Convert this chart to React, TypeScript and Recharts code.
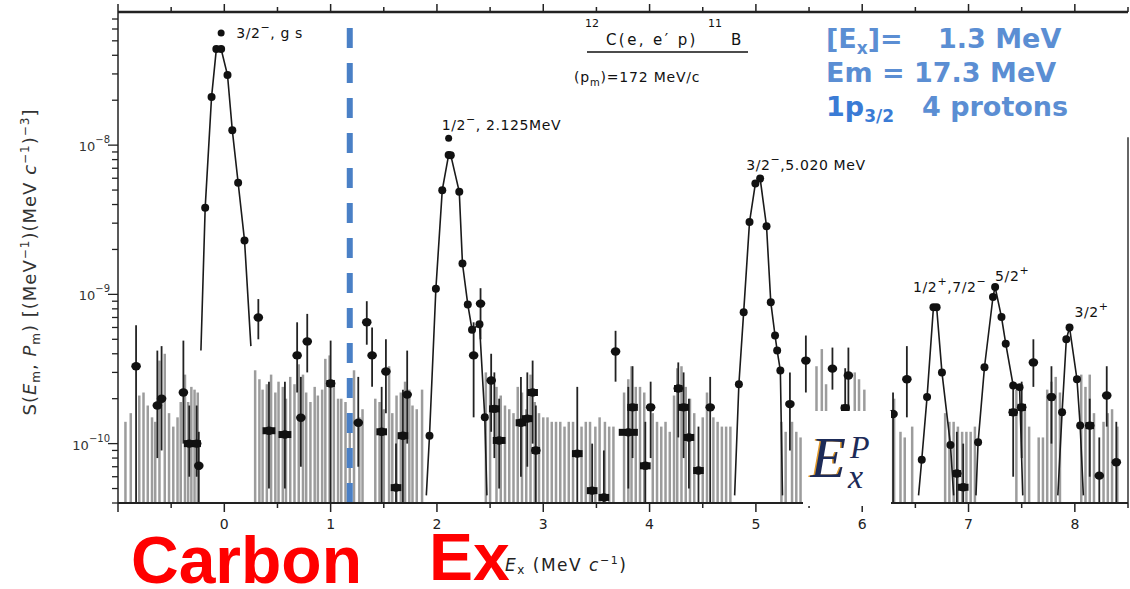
import React from "react";
import {
  ComposedChart,
  XAxis,
  YAxis,
  Line,
  Scatter,
  ErrorBar,
  ReferenceLine,
  ReferenceDot,
} from "recharts";

// axes
const xTicks = [-1, -0.5, 0, 0.5, 1, 1.5, 2, 2.5, 3, 3.5, 4, 4.5, 5, 5.5, 6, 6.5, 7, 7.5, 8, 8.5];
const xLabels = ["0", "1", "2", "3", "4", "5", "6", "7", "8"];
const yMin = 4e-11;
const yMax = 7.8e-8;
const yDecades = [-11, -10, -9, -8];
const yTickLabels = ["10", "10", "10", "10"];

// peaks (connected points)
const gsX = [-0.22, -0.18, -0.12, -0.075, -0.03, 0.03, 0.075, 0.13, 0.19, 0.25];
const gsY = [4.2e-10, 3.8e-9, 2.1e-8, 4.4e-8, 4.4e-8, 2.95e-8, 1.26e-8, 5.6e-9, 2.3e-9, 4.5e-10];
const p2X = [1.9, 1.93, 1.99, 2.05, 2.11, 2.13, 2.21, 2.24, 2.29, 2.33, 2.4, 2.45, 2.47];
const p2Y = [4.5e-11, 1.13e-10, 1.09e-9, 4.99e-9, 8.6e-9, 8.57e-9, 4.87e-9, 1.61e-9, 8.57e-10, 5.8e-10, 6.3e-10, 1.5e-10, 4.5e-11];
const p5X = [4.8, 4.84, 4.885, 4.94, 4.995, 5.04, 5.1, 5.14, 5.18, 5.2, 5.23, 5.25];
const p5Y = [4.5e-11, 2.5e-10, 7.6e-10, 3.05e-9, 5.53e-9, 5.97e-9, 2.86e-9, 8.87e-10, 5.3e-10, 4.2e-10, 3.09e-10, 4.5e-11];
const p67X = [6.53, 6.56, 6.61, 6.67, 6.7, 6.75, 6.83, 6.86];
const p67Y = [4.5e-11, 7.8e-11, 2.05e-10, 8.2e-10, 8.2e-10, 3.0e-10, 9.8e-11, 4.5e-11];
const p72X = [7.07, 7.09, 7.15, 7.23, 7.25, 7.31, 7.35, 7.42, 7.48, 7.51];
const p72Y = [4.5e-11, 1.02e-10, 3.25e-10, 9.6e-10, 1.12e-9, 7.05e-10, 4.67e-10, 2.45e-10, 2.39e-10, 4.5e-11];
const p79X = [7.84, 7.88, 7.92, 7.95, 8.02, 8.05, 8.08];
const p79Y = [4.5e-11, 1.62e-10, 5.0e-10, 6.0e-10, 2.7e-10, 1.32e-10, 4.5e-11];

// isolated measured points with errors
const ptX = [-0.83, -0.63, -0.59, -0.385, -0.33, -0.26, -0.24, 0.32, 0.42, 0.57, 0.685, 0.72, 0.78, 1.0, 1.26, 1.34, 1.39, 1.52, 1.48, 1.615, 1.68, 1.72, 2.345, 2.41, 2.51, 2.54, 2.585, 2.79, 2.85, 2.9, 2.93, 3.32, 3.46, 3.57, 3.68, 3.8, 3.84, 3.96, 4.01, 4.27, 4.32, 4.37, 4.46, 4.57, 5.32, 5.47, 5.72, 5.87, 5.84, 6.29, 6.42, 6.89, 6.95, 7.42, 7.5, 7.61, 7.78, 8.14, 8.23, 8.3, 8.39];
const ptY = [3.3e-10, 1.8e-10, 2.0e-10, 2.2e-10, 1.0e-10, 1.0e-10, 7.1e-11, 7.0e-10, 1.22e-10, 1.15e-10, 3.9e-10, 1.49e-10, 4.84e-10, 2.53e-10, 1.38e-10, 6.5e-10, 3.9e-10, 3.04e-10, 1.2e-10, 5.07e-11, 1.13e-10, 2.13e-10, 3.9e-10, 8.67e-10, 2.65e-10, 1.71e-10, 1.05e-10, 1.38e-10, 1.47e-10, 2.2e-10, 9.0e-11, 8.57e-11, 4.84e-11, 4.36e-11, 4.14e-10, 1.19e-10, 1.75e-10, 7.1e-11, 1.75e-10, 2.34e-10, 1.75e-10, 1.1e-10, 6.6e-11, 1.75e-10, 1.84e-10, 3.6e-10, 3.18e-10, 2.86e-10, 1.73e-10, 1.58e-10, 2.7e-10, 6.3e-11, 5.1e-11, 1.62e-10, 1.75e-10, 3.5e-10, 2.05e-10, 1.32e-10, 6.1e-11, 2.1e-10, 7.5e-11];
const ptLo = [4e-11, 8e-11, 9e-11, 1.0e-10, 6e-11, 6e-11, 4e-11, 5.0e-10, 5e-11, 5e-11, 2.2e-10, 7e-11, 3.0e-10, 4e-11, 7e-11, 4.6e-10, 2.4e-10, 1.6e-10, 4e-11, 4e-11, 4e-11, 1.0e-10, 1.5e-10, 5e-10, 1.2e-10, 8e-11, 5e-11, 6e-11, 7e-11, 1.0e-10, 4e-11, 4e-11, 4e-11, 4e-11, 2.6e-10, 5e-11, 8e-11, 4e-11, 8e-11, 1.1e-10, 8e-11, 5e-11, 4e-11, 4e-11, 9e-11, 2.2e-10, 2.3e-10, 1.6e-10, 9e-11, 4e-11, 1.5e-10, 4e-11, 4e-11, 6e-11, 8e-11, 2.4e-10, 1.0e-10, 6e-11, 4e-11, 1.3e-10, 4e-11];
const ptHi = [6.2e-10, 4.2e-10, 4.5e-10, 4.9e-10, 1.8e-10, 1.8e-10, 1.2e-10, 9.3e-10, 2.6e-10, 2.6e-10, 6.5e-10, 2.8e-10, 7.4e-10, 4.9e-10, 2.8e-10, 9.0e-10, 6.0e-10, 5.0e-10, 2.4e-10, 1.0e-10, 2.3e-10, 4.2e-10, 6.5e-10, 1.1e-9, 4.0e-10, 3.0e-10, 2.0e-10, 2.8e-10, 3.0e-10, 3.6e-10, 1.8e-10, 2.4e-10, 1.0e-10, 9e-11, 5.7e-10, 2.4e-10, 3.3e-10, 1.4e-10, 2.6e-10, 3.5e-10, 3.0e-10, 2.0e-10, 1.3e-10, 2.8e-10, 3.0e-10, 5.3e-10, 4.4e-10, 4.4e-10, 3.2e-10, 2.2e-10, 4.5e-10, 1.2e-10, 1.0e-10, 2.6e-10, 2.6e-10, 5.0e-10, 3.3e-10, 2.0e-10, 1.1e-10, 3.3e-10, 1.4e-10];
const ptDx = [0, 0.02, 0.02, 0.02, 0.05, 0.04, 0.02, 0, 0.06, 0.06, 0.03, 0, 0, 0.04, 0, 0, 0, 0.02, 0.05, 0.05, 0.05, 0, 0, 0.02, 0, 0.05, 0.06, 0.05, 0.05, 0.05, 0.04, 0.05, 0.05, 0.05, 0, 0.09, 0.05, 0.05, 0.03, 0.04, 0.05, 0.05, 0.05, 0, 0, 0, 0, 0, 0.04, 0, 0, 0.04, 0.05, 0.04, 0.04, 0, 0.03, 0.04, 0, 0, 0];

// background error bars (upper ends)
const barX = [-0.93, -0.88, -0.8, -0.76, -0.72, -0.68, -0.65, -0.61, -0.56, -0.52, -0.48, -0.44, -0.41, -0.37, -0.34, -0.31, -0.28, -0.25,
  0.29, 0.33, 0.36, 0.4, 0.44, 0.48, 0.51, 0.55, 0.58, 0.62, 0.66, 0.7, 0.74, 0.77, 0.81, 0.85, 0.88, 0.92, 0.95, 0.99, 1.03, 1.07, 1.1, 1.14, 1.18, 1.22, 1.27, 1.3,
  1.42, 1.46, 1.5, 1.55, 1.58, 1.62, 1.66, 1.7, 1.74, 1.77, 1.81, 1.86,
  2.46, 2.5, 2.56, 2.6, 2.64, 2.68, 2.72, 2.76, 2.8, 2.84, 2.88, 2.92, 2.96, 3.0, 3.04, 3.08, 3.12, 3.16, 3.2, 3.24, 3.28, 3.36, 3.4, 3.44, 3.49, 3.53, 3.58, 3.62, 3.66,
  3.76, 3.8, 3.83, 3.87, 3.91, 3.95, 4.03, 4.07, 4.11, 4.15, 4.19, 4.23, 4.26, 4.3, 4.34, 4.38, 4.42, 4.5, 4.54, 4.6, 4.64, 4.68, 4.72, 4.76,
  5.24, 5.28, 5.34, 5.38, 5.42, 5.57, 5.62, 5.66, 5.93, 5.97, 6.02, 6.26, 6.3, 6.36, 6.4, 6.47,
  6.78, 6.82, 6.86, 6.9, 6.94, 6.98, 7.02, 7.06,
  7.45, 7.53, 7.57, 7.66, 7.7, 7.74, 7.78, 7.82, 7.86, 8.06, 8.1, 8.14, 8.18, 8.27, 8.31, 8.35, 8.4];
const barTop = [1.4e-10, 1.6e-10, 2.1e-10, 2.2e-10, 1.8e-10, 1.5e-10, 1.4e-10, 3.6e-10, 4.0e-10, 1.6e-10, 1.3e-10, 1.5e-10, 1.9e-10, 2.9e-10, 1.9e-10, 2.4e-10, 2.3e-10, 2.2e-10,
  3.1e-10, 2.7e-10, 2.3e-10, 2.5e-10, 2.9e-10, 2.2e-10, 2.6e-10, 2.4e-10, 2.0e-10, 2.8e-10, 2.5e-10, 3.4e-10, 2.9e-10, 2.2e-10, 1.9e-10, 2.4e-10, 2.1e-10, 2.3e-10, 3.7e-10, 3.9e-10, 2.6e-10, 2.0e-10, 2.0e-10, 1.9e-10, 1.6e-10, 3.1e-10, 1.5e-10, 1.7e-10,
  2.0e-10, 1.9e-10, 1.7e-10, 3.3e-10, 1.6e-10, 2.1e-10, 2.2e-10, 2.6e-10, 2.3e-10, 1.8e-10, 1.7e-10, 2.3e-10,
  3.0e-10, 2.6e-10, 2.4e-10, 2.1e-10, 1.8e-10, 1.7e-10, 1.6e-10, 2.4e-10, 2.2e-10, 1.7e-10, 2.9e-10, 1.9e-10, 1.6e-10, 1.5e-10, 1.5e-10, 1.4e-10, 1.4e-10, 1.4e-10, 1.3e-10, 1.4e-10, 1.4e-10, 1.3e-10, 1.4e-10, 1.4e-10, 1.3e-10, 1.5e-10, 1.4e-10, 1.3e-10, 1.3e-10,
  2.2e-10, 2.7e-10, 3.3e-10, 2.4e-10, 2.4e-10, 2.2e-10, 1.6e-10, 1.4e-10, 1.3e-10, 1.4e-10, 1.2e-10, 2.1e-10, 3.2e-10, 3.3e-10, 2.4e-10, 2.0e-10, 1.6e-10, 1.5e-10, 2.2e-10, 1.5e-10, 1.4e-10, 1.3e-10, 1.3e-10, 1.3e-10,
  1.4e-10, 1.2e-10, 1.4e-10, 1.2e-10, 1.1e-10, 3.3e-10, 4.3e-10, 2.5e-10, 3.0e-10, 2.7e-10, 2.3e-10, 1.5e-10, 2.0e-10, 1.2e-10, 1.1e-10, 1.3e-10,
  1.6e-10, 1.4e-10, 1.4e-10, 1.3e-10, 1.2e-10, 1.2e-10, 1.2e-10, 1.3e-10,
  2.3e-10, 1.8e-10, 1.3e-10, 1.1e-10, 1.1e-10, 2.3e-10, 2.6e-10, 2.8e-10, 2.2e-10, 2.9e-10, 2.4e-10, 2.9e-10, 1.6e-10, 1.4e-10, 1.6e-10, 1.7e-10, 1.3e-10];

const dashX = 1.18;

const toPts = (xs: number[], ys: number[]) => xs.map((x, i) => ({ x, y: ys[i] }));

const peaks = [toPts(gsX, gsY), toPts(p2X, p2Y), toPts(p5X, p5Y), toPts(p67X, p67Y), toPts(p72X, p72Y), toPts(p79X, p79Y)];

const points = ptX.map((x, i) => ({
  x,
  y: ptY[i],
  err: [ptY[i] - ptLo[i], ptHi[i] - ptY[i]],
  xerr: ptDx[i],
}));

const bars = barX.map((x, i) => ({ x, y: yMin, err: [0, barTop[i] - yMin] }));

const yTicks = yDecades.flatMap((e) => [1, 2, 3, 4, 5, 6, 7, 8, 9].map((m) => m * Math.pow(10, e))).filter((v) => v >= yMin && v <= yMax);

const FONT = "DejaVu Sans";

function BottomTick(props: any) {
  const { x, y, payload } = props;
  const v = payload.value;
  const major = Number.isInteger(v);
  const idx = v >= 0 && major ? v : -1;
  return (
    <g>
      <line x1={x} x2={x} y1={y} y2={y + (major ? 9 : 5)} stroke="#222" strokeWidth={1.5} />
      {idx >= 0 && (
        <text x={x} y={y + 26} textAnchor="middle" fontSize={14} fontFamily={FONT} fill="#222">
          {xLabels[idx]}
        </text>
      )}
    </g>
  );
}

function TopTick(props: any) {
  const { x, y, payload } = props;
  const major = Number.isInteger(payload.value);
  return <line x1={x} x2={x} y1={y} y2={y - (major ? 8 : 5)} stroke="#222" strokeWidth={1.5} />;
}

function LeftTick(props: any) {
  const { x, y, payload } = props;
  const v = payload.value;
  const e = Math.round(Math.log10(v));
  const major = Math.abs(v / Math.pow(10, e) - 1) < 1e-6;
  const di = yDecades.indexOf(e);
  return (
    <g>
      <line x1={x - (major ? 10 : 6)} x2={x} y1={y} y2={y} stroke="#222" strokeWidth={1.3} />
      {major && di >= 0 && (
        <text x={x - 8} y={y + 6} textAnchor="end" fontSize={13} fontFamily={FONT} fill="#333">
          {yTickLabels[di]}
          <tspan dy={-8} fontSize={10}>{String(e).replace("-", "−")}</tspan>
        </text>
      )}
    </g>
  );
}

const peakDot = (last: number) => (p: any) => {
  if (p.index === 0 || p.index === last || p.cx == null) return <g key={p.index} />;
  return <circle key={p.index} cx={p.cx} cy={p.cy} r={4} fill="#111" />;
};

function PeakText(props: any) {
  const { viewBox, dx, dy, parts } = props;
  const cx = viewBox.x + viewBox.width / 2;
  const cy = viewBox.y + viewBox.height / 2;
  let up = false;
  return (
    <text x={cx + dx} y={cy + dy} fontFamily={FONT} fontSize={14} fill="#111" letterSpacing={0.6}>
      {parts.map((pt: [string, number], i: number) => {
        const sup = pt[1] === 1;
        const shift = sup && !up ? -7 : !sup && up ? 7 : 0;
        up = sup;
        return (
          <tspan key={i} dy={shift} fontSize={sup ? 11 : 14}>
            {pt[0]}
          </tspan>
        );
      })}
    </text>
  );
}

const labels: { x: number; y: number; r: number; dx: number; dy: number; parts: [string, number][] }[] = [
  { x: -0.03, y: 5.65e-8, r: 3.5, dx: 15, dy: 5, parts: [["3/2", 0], ["−", 1], [", g s", 0]] },
  { x: 2.11, y: 1.11e-8, r: 3.5, dx: -7, dy: -8, parts: [["1/2", 0], ["−", 1], [", 2.125MeV", 0]] },
  { x: 5.04, y: 5.97e-9, r: 0.01, dx: -14, dy: -9, parts: [["3/2", 0], ["−", 1], [",5.020 MeV", 0]] },
  { x: 6.685, y: 8.2e-10, r: 0.01, dx: -22, dy: -15, parts: [["1/2", 0], ["+", 1], [",7/2", 0], ["−", 1]] },
  { x: 7.25, y: 1.12e-9, r: 0.01, dx: 0, dy: -6, parts: [["5/2", 0], ["+", 1]] },
  { x: 7.95, y: 6.0e-10, r: 0.01, dx: 5, dy: -10, parts: [["3/2", 0], ["+", 1]] },
];

export default function App() {
  return (
    <div style={{ position: "relative", width: 1130, height: 589, background: "#fff" }}>
      <style>{"body{margin:0}"}</style>
      <ComposedChart width={1130} height={589} margin={{ top: 0, right: 2, bottom: 56, left: 78 }}>
        <XAxis
          xAxisId="bottom"
          dataKey="x"
          type="number"
          domain={[-1, 8.5]}
          ticks={xTicks}
          interval={0}
          allowDataOverflow
          height={30}
          tickSize={0}
          tickMargin={0}
          tick={<BottomTick />}
          axisLine={{ stroke: "#222", strokeWidth: 2 }}
        />
        <XAxis
          xAxisId="top"
          orientation="top"
          dataKey="x"
          type="number"
          domain={[-1, 8.5]}
          ticks={xTicks}
          interval={0}
          allowDataOverflow
          height={12}
          tickSize={0}
          tickMargin={0}
          tick={<TopTick />}
          axisLine={{ stroke: "#222", strokeWidth: 2.5 }}
        />
        <YAxis
          dataKey="y"
          type="number"
          scale="log"
          domain={[yMin, yMax]}
          ticks={yTicks}
          interval={0}
          allowDataOverflow
          width={40}
          tickSize={0}
          tickMargin={0}
          tick={<LeftTick />}
          axisLine={{ stroke: "#222", strokeWidth: 1.5 }}
        />
        <Scatter xAxisId="bottom" data={bars} isAnimationActive={false} shape={() => <g />}>
          <ErrorBar dataKey="err" direction="y" width={0} stroke="#9c9c9c" strokeWidth={2.5} />
        </Scatter>
        <Scatter
          xAxisId="bottom"
          data={points}
          isAnimationActive={false}
          shape={(p: any) => <ellipse cx={p.cx} cy={p.cy} rx={4.8} ry={4.2} fill="#111" />}
        >
          <ErrorBar dataKey="err" direction="y" width={0} stroke="#222" strokeWidth={1.8} />
          <ErrorBar dataKey="xerr" direction="x" width={0} stroke="#111" strokeWidth={7} />
        </Scatter>
        {peaks.map((d, i) => (
          <Line
            key={i}
            xAxisId="bottom"
            data={d}
            dataKey="y"
            type="linear"
            stroke="#1a1a1a"
            strokeWidth={1.6}
            dot={peakDot(d.length - 1)}
            activeDot={false}
            isAnimationActive={false}
          />
        ))}
        <ReferenceLine
          xAxisId="bottom"
          segment={[{ x: 8.5, y: 1.13e-8 }, { x: 8.5, y: yMin }]}
          stroke="#333"
          strokeWidth={1.5}
        />
        <ReferenceLine
          xAxisId="bottom"
          segment={[{ x: dashX, y: 6.1e-8 }, { x: dashX, y: yMin }]}
          stroke="#4a80c6"
          strokeWidth={6}
          strokeDasharray="20 15"
        />
        {labels.map((l, i) => (
          <ReferenceDot
            key={i}
            xAxisId="bottom"
            x={l.x}
            y={l.y}
            r={l.r}
            fill="#111"
            stroke="none"
            label={<PeakText dx={l.dx} dy={l.dy} parts={l.parts} />}
          />
        ))}
      </ComposedChart>
      <svg width={1130} height={589} style={{ position: "absolute", left: 0, top: 0, pointerEvents: "none" }}>
        {/* y axis title */}
        <text transform="translate(36,262) rotate(-90)" textAnchor="middle" fontFamily={FONT} fontSize={18} fill="#333" letterSpacing={1}>
          S(<tspan fontStyle="italic">E</tspan>
          <tspan dy={4} fontSize={12}>m</tspan>
          <tspan dy={-4}>, </tspan>
          <tspan fontStyle="italic">P</tspan>
          <tspan dy={4} fontSize={12}>m</tspan>
          <tspan dy={-4}>) [(MeV</tspan>
          <tspan dy={-7} fontSize={12}>−1</tspan>
          <tspan dy={7}>)(MeV </tspan>
          <tspan fontStyle="italic">c</tspan>
          <tspan dy={-7} fontSize={12}>−1</tspan>
          <tspan dy={7}>)</tspan>
          <tspan dy={-7} fontSize={12}>−3</tspan>
          <tspan dy={7}>]</tspan>
        </text>
        {/* x axis title */}
        <text x={505} y={571} fontFamily={FONT} fontSize={17} fill="#222" letterSpacing={1.5}>
          <tspan fontStyle="italic">E</tspan>
          <tspan dy={3} fontSize={12}>x</tspan>
          <tspan dy={-3}> (MeV </tspan>
          <tspan fontStyle="italic">c</tspan>
          <tspan dy={-7} fontSize={11}>−1</tspan>
          <tspan dy={7}>)</tspan>
        </text>
        {/* reaction */}
        <text fontFamily={FONT} fill="#111">
          <tspan x={585} y={27} fontSize={11}>12</tspan>
          <tspan x={606} y={45} fontSize={15} letterSpacing={2.4}>C(e, e′ p)</tspan>
          <tspan x={708} y={27} fontSize={11}>11</tspan>
          <tspan x={731} y={45} fontSize={15}>B</tspan>
        </text>
        <line x1={587} x2={748} y1={52} y2={52} stroke="#111" strokeWidth={1.5} />
        <text x={574} y={82} fontFamily={FONT} fontSize={14} fill="#111" letterSpacing={0.8}>
          (p<tspan dy={4} fontSize={10}>m</tspan>
          <tspan dy={-4}>)=172 MeV/c</tspan>
        </text>
        {/* blue notes */}
        <g fontFamily={FONT} fontWeight="bold" fill="#5b8ed3">
          <text x={826} y={48} fontSize={27}>
            [E<tspan dy={6} fontSize={17}>x</tspan>
            <tspan dy={-6}>]=</tspan>
          </text>
          <text x={938} y={48} fontSize={27}>1.3 MeV</text>
          <text x={826} y={82} fontSize={27}>Em = 17.3 MeV</text>
          <text x={826} y={116} fontSize={27} fill="#3a7bd5">
            1p<tspan dy={6} fontSize={17}>3/2</tspan>
          </text>
          <text x={922} y={116} fontSize={27}>4 protons</text>
        </g>
        {/* E_x^P inset */}
        <rect x={803} y={411} width={88} height={95} fill="#fff" />
        <g fontFamily="Liberation Serif" fontStyle="italic">
          <text x={809} y={477} fontSize={58} fill="#e39a2a">E</text>
          <text x={810.5} y={477} fontSize={58} fill="#1d2b58">E</text>
          <text x={850} y={458} fontSize={32} fill="#1d2b58">P</text>
          <text x={848} y={488} fontSize={34} fill="#1d2b58">x</text>
        </g>
        {/* red notes */}
        <g fontFamily="Liberation Sans" fontWeight="bold" fill="#ff0000">
          <text x={131} y={583} fontSize={66}>Carbon</text>
          <text x={429} y={580} fontSize={66}>Ex</text>
        </g>
      </svg>
    </div>
  );
}
